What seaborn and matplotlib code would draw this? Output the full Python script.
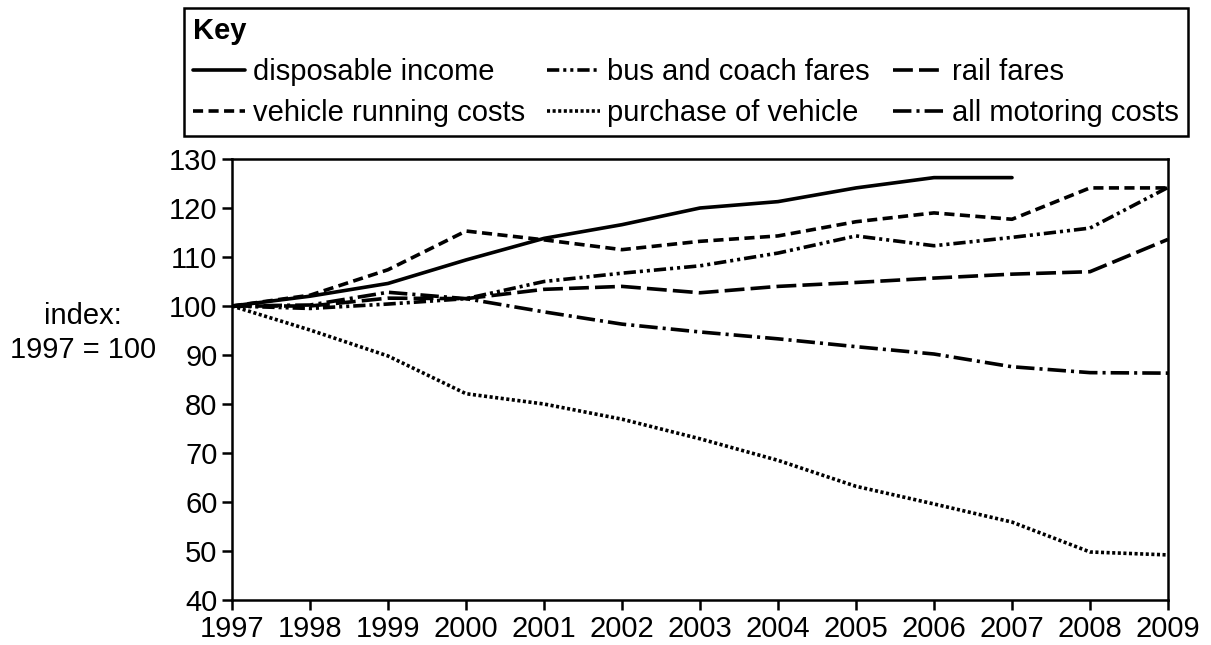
import numpy as np
import pandas as pd
import seaborn as sb
import matplotlib.pyplot as plt

# data (index: 1997 = 100)
years = list(range(1997, 2010))
disposable_income = [100, 102.0, 104.6, 109.4, 113.8, 116.6, 120.0, 121.3, 124.1, 126.2, 126.2, np.nan, np.nan]
vehicle_running = [100, 102.2, 107.4, 115.3, 113.5, 111.5, 113.2, 114.3, 117.2, 119.0, 117.7, 124.1, 124.1]
bus_coach = [100, 99.5, 100.4, 101.5, 105.0, 106.7, 108.2, 110.8, 114.3, 112.3, 114.0, 115.9, 124.2]
rail_fares = [100, 100.0, 101.6, 101.5, 103.4, 104.0, 102.7, 104.0, 104.8, 105.7, 106.5, 107.0, 113.6]
purchase_vehicle = [100, 95.1, 89.8, 82.1, 80.0, 76.9, 72.9, 68.5, 63.2, 59.6, 55.9, 49.8, 49.2]
all_motoring = [100, 100.2, 102.8, 101.5, 98.8, 96.3, 94.7, 93.3, 91.7, 90.2, 87.6, 86.4, 86.3]

# order = legend order (filled column by column, 3 columns)
names = ["disposable income", "vehicle running costs", "bus and coach fares",
         "purchase of vehicle", "rail fares", "all motoring costs"]
series = [disposable_income, vehicle_running, bus_coach,
          purchase_vehicle, rail_fares, all_motoring]

# dash patterns, in multiples of the line width
dash_map = {
    "disposable income": "",
    "vehicle running costs": (2.8, 1.5),
    "bus and coach fares": (3.4, 1.1, 0.85, 1.1, 0.85, 1.1),
    "purchase of vehicle": (0.85, 0.7),
    "rail fares": (5.5, 1.7),
    "all motoring costs": (5.1, 1.4, 0.85, 1.4),
}

df = pd.DataFrame({
    "year": years * len(names),
    "value": [v for s in series for v in s],
    "series": [n for n in names for _ in years],
})

sb.set_style("ticks")
plt.rcParams["font.family"] = ["Liberation Sans", "DejaVu Sans"]
plt.rcParams["text.color"] = "black"

fig = plt.figure(figsize=(12.11, 6.45), dpi=100)
ax = fig.add_axes([232 / 1211, 1 - 600 / 645, (1168 - 232) / 1211, (600 - 159) / 645])

sb.lineplot(data=df, x="year", y="value", hue="series", style="series",
            hue_order=names, style_order=names, palette=["black"] * len(names),
            dashes=dash_map, linewidth=2.6, errorbar=None, legend=False, ax=ax)

ax.set_xlim(1997, 2009)
ax.set_ylim(40, 130)
ax.set_xticks(years)
ax.set_yticks(range(40, 131, 10))
ax.set_xlabel("")
ax.set_ylabel("")
for sp in ax.spines.values():
    sp.set_visible(True)
    sp.set_linewidth(1.8)
    sp.set_color("black")
ax.tick_params(direction="out", length=7.5, width=1.8, colors="black",
               labelsize=21, pad=3)

fig.text(83 / 1211, 1 - 333 / 645, "index:\n1997 = 100", ha="center", va="center",
         fontsize=21, multialignment="center", linespacing=1.25)

handles = ax.get_lines()[:len(names)]
leg = fig.legend(handles, names, loc="upper left", ncol=3, mode="expand",
                 bbox_to_anchor=(184 / 1211, 0, 1004 / 1211, 1 - 8 / 645),
                 borderaxespad=0, fontsize=21, title="Key",
                 title_fontproperties={"weight": "bold", "size": 21},
                 alignment="left", frameon=True, fancybox=False, framealpha=1,
                 edgecolor="black", handlelength=1.8, handletextpad=0.25,
                 labelspacing=0.45, borderpad=0.3, columnspacing=0.5)
leg.get_frame().set_linewidth(1.8)

fig.savefig("out.png", dpi=100)
